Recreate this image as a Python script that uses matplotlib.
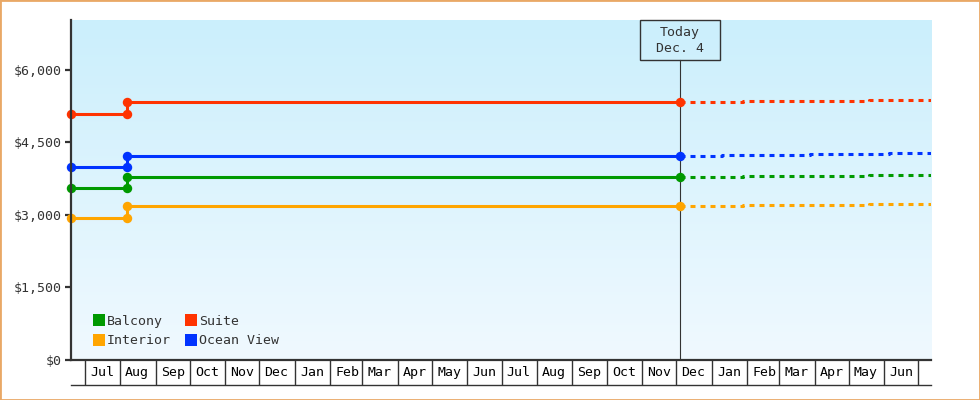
import matplotlib
matplotlib.use("Agg")
import matplotlib.pyplot as plt
import matplotlib.dates as mdates
from matplotlib.lines import Line2D
from matplotlib.patches import Rectangle
from matplotlib.ticker import FuncFormatter
import numpy as np

plt.rcParams['font.family'] = ['DejaVu Sans Mono', 'DejaVu Sans']
plt.rcParams['lines.scale_dashes'] = False

# ---------------- data ----------------
series_names = ["Balcony", "Interior", "Suite", "Ocean View"]
series_colors = ["#009900", "#ffa500", "#ff3300", "#0033ff"]

history_dates = ["2017-06-19", "2017-08-07", "2017-08-07", "2018-12-04"]
balcony_hist = [3550, 3550, 3790, 3790]
interior_hist = [2930, 2930, 3190, 3190]
suite_hist = [5090, 5090, 5330, 5330]
ocean_hist = [4000, 4000, 4220, 4220]

today_date = "2018-12-04"
today_label = "Today\nDec. 4"
axis_start = "2017-06-19"
axis_end = "2019-07-12"

balcony_fc_dates = ["2018-12-04", "2019-01-28", "2019-05-19", "2019-07-12"]
balcony_fc = [3790, 3810, 3830, 3830]
interior_fc_dates = ["2018-12-04", "2019-01-28", "2019-05-19", "2019-07-12"]
interior_fc = [3190, 3210, 3230, 3230]
suite_fc_dates = ["2018-12-04", "2019-01-28", "2019-05-19", "2019-07-12"]
suite_fc = [5330, 5350, 5370, 5370]
ocean_fc_dates = ["2018-12-04", "2019-01-10", "2019-03-28", "2019-06-05", "2019-07-12"]
ocean_fc = [4220, 4235, 4255, 4275, 4275]

y_ticks = [0, 1500, 3000, 4500, 6000]
y_max = 7030

hist_values = [balcony_hist, interior_hist, suite_hist, ocean_hist]
fc_dates = [balcony_fc_dates, interior_fc_dates, suite_fc_dates, ocean_fc_dates]
fc_values = [balcony_fc, interior_fc, suite_fc, ocean_fc]

# ---------------- figure ----------------
W, H = 980, 400
fig = plt.figure(figsize=(W / 100, H / 100), dpi=100)
L, R, T, B = 71, 931, 20, 360
ax = fig.add_axes([L / W, 1 - B / H, (R - L) / W, (B - T) / H])

dark = "#333333"

# gradient background
grad = np.linspace(0, 1, 256).reshape(-1, 1)
top_c = np.array([203, 239, 252]) / 255
bot_c = np.array([240, 249, 255]) / 255
img = top_c[None, None, :] * (1 - grad[:, :, None]) + bot_c[None, None, :] * grad[:, :, None]
ax.imshow(img, extent=[0, 1, 0, 1], transform=ax.transAxes, aspect='auto', zorder=0)
ax.set_facecolor("none")

to_num = lambda ds: mdates.datestr2num(ds)

x0, x1 = to_num(axis_start), to_num(axis_end)
ax.set_xlim(x0, x1)
ax.set_ylim(0, y_max)

today_num = to_num(today_date)
box_w, box_h = 80, 40
ax.axvline(today_num, ymin=0, ymax=1 - box_h / (B - T), color=dark, lw=0.8, zorder=2)

lw = 2.2
for name, col, hv, fd, fv in zip(series_names, series_colors, hist_values, fc_dates, fc_values):
    ax.plot(to_num(history_dates), hv, color=col, lw=lw, marker='o', markersize=6.8,
            markeredgewidth=0, solid_capstyle='butt', clip_on=False, zorder=4)
    ax.plot(to_num(fd), fv, color=col, lw=lw, drawstyle='steps-post',
            linestyle=(0, (3.6, 3.6)), dash_capstyle='butt', zorder=3)

# today box
fx = (today_num - x0) / (x1 - x0)
bw = box_w / (R - L)
bh = box_h / (B - T)
ax.add_patch(Rectangle((fx - bw / 2, 1 - bh), bw, bh, transform=ax.transAxes,
                       facecolor='none', edgecolor=dark, lw=1.0, zorder=5, clip_on=False))
ax.text(fx, 1 - bh / 2 - 0.002, today_label, transform=ax.transAxes, ha='center', va='center',
        fontsize=9.5, color=dark, linespacing=1.3, zorder=6)

# y axis
ax.set_yticks(y_ticks)
ax.yaxis.set_major_formatter(FuncFormatter(lambda v, p: "${:,.0f}".format(v)))
ax.tick_params(axis='y', length=4.5, width=1.6, color=dark, pad=2, labelsize=9.5, labelcolor=dark)

# x axis: month boundaries (major) and month labels (minor)
ax.xaxis.set_major_locator(mdates.MonthLocator())
ax.xaxis.set_major_formatter(plt.NullFormatter())
ax.xaxis.set_minor_locator(mdates.MonthLocator(bymonthday=16))
ax.xaxis.set_minor_formatter(mdates.DateFormatter('%b'))
ax.tick_params(axis='x', which='major', length=18, width=1.0, color=dark, direction='out')
ax.tick_params(axis='x', which='minor', length=0, pad=4, labelsize=9.5, labelcolor='black')
ax.plot([0, 1], [-25 / (B - T)] * 2, transform=ax.transAxes, color=dark, lw=1.0, clip_on=False)

for s in ['top', 'right']:
    ax.spines[s].set_visible(False)
for s in ['left', 'bottom']:
    ax.spines[s].set_color(dark)
    ax.spines[s].set_linewidth(1.6)
    ax.spines[s].set_zorder(6)

# legend
handles = [Line2D([], [], marker='s', linestyle='none', markersize=8, color=c, markeredgewidth=0)
           for c in series_colors]
leg = ax.legend(handles, series_names, ncol=2, loc='upper left',
                bbox_to_anchor=((93 - L) / (R - L), (B - 315) / (B - T)),
                frameon=False, borderpad=0, handlelength=0.85, handletextpad=0.2,
                columnspacing=1.1, labelspacing=0.47, fontsize=9.5, borderaxespad=0)
for t in leg.get_texts():
    t.set_color(dark)

# figure border
fig.add_artist(Rectangle((0, 0), 1, 1, transform=fig.transFigure, facecolor='none',
                         edgecolor='#e9a866', lw=2.0))

fig.savefig("out.png", dpi=100)
